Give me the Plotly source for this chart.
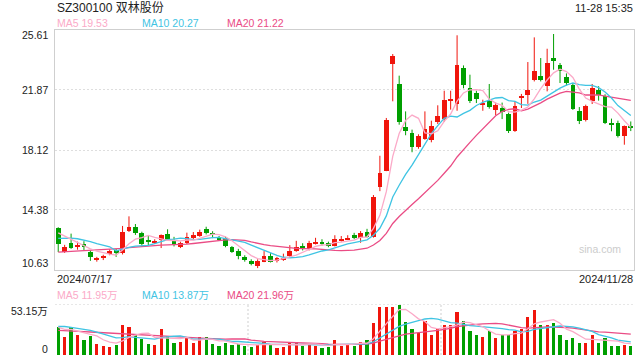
import plotly.graph_objects as go
import pandas as pd

# ---------------- data ----------------
title_text = "SZ300100 双林股份"
time_text = "11-28 15:35"
start_label = "2024/07/17"
end_label = "2024/11/28"

opens = [13.23, 11.77, 12.33, 12.10, 12.27, 11.77, 11.28, 11.40, 11.63, 11.86,
         11.70, 13.06, 13.29, 12.92, 12.47, 12.38, 12.50, 12.85, 12.50, 12.08,
         12.33, 12.65, 12.75, 13.17, 12.90, 12.60, 12.65, 12.06, 11.83, 11.46,
         11.21, 10.88, 11.15, 11.50, 11.18, 11.25, 11.52, 11.83, 12.13, 11.94,
         12.30, 12.40, 12.30, 12.15, 12.48, 12.55, 12.82, 12.65, 13.02, 12.71,
         15.81, 16.83, 23.51, 22.24, 19.55, 19.16, 18.29, 18.82, 18.72, 19.87,
         20.06, 21.20, 20.99, 23.24, 21.99, 21.68, 20.95, 21.16, 20.62, 20.76,
         20.37, 19.32, 21.38, 21.57, 22.51, 22.76, 22.10, 23.86, 23.41, 22.66,
         22.16, 20.57, 20.01, 21.20, 21.89, 21.47, 19.78, 19.80, 18.98, 19.60]
highs = [13.30, 12.20, 12.90, 12.40, 12.43, 11.85, 11.45, 11.58, 11.92, 11.95,
         13.38, 13.98, 13.50, 13.02, 12.75, 12.55, 12.85, 13.17, 12.70, 12.40,
         12.96, 13.00, 13.15, 13.33, 13.05, 12.75, 12.72, 12.12, 11.95, 11.55,
         11.30, 11.30, 11.81, 11.68, 11.45, 11.65, 12.18, 12.45, 12.30, 12.45,
         12.64, 12.55, 12.40, 12.80, 12.75, 12.80, 12.95, 13.06, 13.20, 15.31,
         17.76, 20.12, 24.11, 22.76, 20.53, 19.39, 19.10, 20.53, 19.95, 20.91,
         21.82, 21.82, 25.28, 23.40, 22.82, 21.82, 21.26, 22.24, 21.08, 21.08,
         20.45, 21.18, 21.62, 23.61, 25.15, 23.86, 24.44, 25.36, 23.55, 22.90,
         22.30, 20.80, 20.95, 22.24, 22.10, 21.60, 20.08, 19.95, 19.65, 19.90]
lows = [11.75, 11.70, 11.95, 11.90, 11.88, 11.20, 11.15, 11.25, 11.55, 11.45,
        11.60, 13.00, 12.82, 12.15, 12.18, 12.25, 12.00, 12.45, 12.10, 12.00,
        12.25, 12.55, 12.70, 12.85, 12.62, 12.45, 12.05, 11.70, 11.30, 11.15,
        10.92, 10.75, 11.12, 11.10, 11.10, 11.20, 11.45, 11.77, 11.85, 11.85,
        12.22, 12.15, 12.05, 12.10, 12.40, 12.50, 12.55, 12.33, 12.65, 12.65,
        15.55, 16.80, 21.16, 19.70, 19.04, 17.98, 18.20, 18.76, 18.60, 19.74,
        19.87, 20.64, 20.57, 21.97, 21.05, 21.05, 20.57, 20.70, 20.30, 20.05,
        19.18, 19.25, 20.74, 21.00, 22.40, 22.40, 21.78, 23.13, 22.30, 22.15,
        20.62, 19.74, 19.90, 20.99, 21.20, 19.74, 19.29, 18.90, 18.45, 19.30]
closes = [12.23, 12.06, 12.02, 12.15, 12.06, 11.43, 11.35, 11.48, 11.80, 11.72,
          13.02, 13.32, 12.92, 12.25, 12.42, 12.43, 12.82, 12.50, 12.19, 12.29,
          12.71, 12.79, 13.02, 12.96, 12.85, 12.55, 12.13, 11.77, 11.50, 11.25,
          11.00, 11.21, 11.50, 11.15, 11.35, 11.40, 11.81, 12.06, 11.94, 12.33,
          12.35, 12.27, 12.15, 12.58, 12.52, 12.60, 12.65, 12.96, 12.72, 15.21,
          16.68, 20.01, 23.97, 19.87, 19.32, 18.32, 19.01, 19.43, 19.60, 20.22,
          21.26, 21.32, 23.45, 22.16, 21.20, 21.32, 21.02, 20.78, 20.93, 20.51,
          19.32, 20.87, 21.43, 21.89, 23.07, 22.51, 23.55, 23.65, 23.03, 22.32,
          20.70, 19.92, 20.85, 21.99, 21.58, 19.80, 19.77, 18.98, 19.60, 19.50]
# volume in 万
volumes = [30.5, 19.3, 30.5, 21.1, 16.8, 20.3, 12.0, 10.0, 9.0, 11.0,
           32.6, 30.5, 21.8, 17.6, 12.0, 11.0, 27.4, 20.3, 13.0, 14.0,
           18.0, 13.0, 20.0, 19.3, 12.0, 10.0, 13.0, 11.0, 12.0, 10.0,
           9.0, 11.0, 14.0, 12.0, 8.0, 9.0, 13.0, 14.0, 10.0, 12.0,
           10.0, 8.0, 9.0, 16.8, 10.0, 11.0, 10.0, 14.0, 16.8, 33.7,
           50.8, 50.8, 50.8, 53.15, 35.0, 27.4, 23.9, 36.8, 22.1, 27.4,
           31.6, 31.6, 46.3, 35.8, 25.3, 22.1, 19.3, 25.3, 18.2, 21.1,
           22.1, 26.3, 27.4, 41.0, 47.4, 31.6, 31.6, 34.7, 22.1, 16.3,
           18.2, 13.2, 13.2, 21.1, 13.25, 18.2, 10.5, 10.0, 10.8, 10.25]

# moving-average values at the left edge (need history before the first day)
ma5_head = [12.95, 12.75, 12.55, 12.35]
ma10_head = [12.60, 12.62, 12.62, 12.58, 12.50, 12.40, 12.28, 12.17, 12.08]
ma20_head = [11.74, 11.76, 11.79, 11.82, 11.84, 11.85, 11.86, 11.88, 11.91, 11.93,
             11.98, 12.03, 12.07, 12.10, 12.13, 12.15, 12.18, 12.19, 12.20]
vma5_head = [29.0, 27.0, 27.0, 25.0]
vma10_head = [30.0, 30.0, 29.0, 28.0, 27.0, 26.0, 24.0, 22.0, 20.0]
vma20_head = [26.0, 25.8, 25.5, 25.0, 24.6, 24.2, 23.8, 23.3, 22.8, 22.3,
              22.0, 21.7, 21.4, 21.0, 20.6, 20.3, 20.0, 19.7, 19.4]

price_ticks = [10.63, 14.38, 18.12, 21.87, 25.61]
vol_max = 53.15

# ---------------- styling ----------------
RED = "#f0150c"
GREEN = "#009f00"
C_MA5 = "#fbaac8"
C_MA10 = "#3fc4e3"
C_MA20 = "#ea4c85"
FONT = "Liberation Sans, Arial, Noto Sans CJK SC"

W, H = 640, 360
L, R, T, B = 55, 6, 30, 5
PW, PH = W - L - R, H - T - B


def px(xpix):
    return (xpix - L) / PW


def py(ypix):
    return (H - B - ypix) / PH


def ma(values, w, head):
    m = pd.Series(values).rolling(w).mean().tolist()
    for k, v in enumerate(head):
        m[k] = v
    return m


n = len(closes)
x = list(range(n))
colors = [RED if c >= o else GREEN for o, c in zip(opens, closes)]

fig = go.Figure()

# wicks
for col in (RED, GREEN):
    wx, wy = [], []
    for i in range(n):
        if colors[i] == col:
            wx += [i, i, None]
            wy += [lows[i], highs[i], None]
    fig.add_trace(go.Scatter(x=wx, y=wy, mode="lines", line=dict(color=col, width=1),
                             hoverinfo="skip", xaxis="x", yaxis="y"))

# bodies
min_h = 0.07
body_h = [max(abs(c - o), min_h) for o, c in zip(opens, closes)]
body_b = [(o + c) / 2 - h / 2 for o, c, h in zip(opens, closes, body_h)]
fig.add_trace(go.Bar(x=x, y=body_h, base=body_b, width=0.74,
                     marker=dict(color=colors, line=dict(width=0)),
                     xaxis="x", yaxis="y"))

# price MAs
for w, head, col in ((20, ma20_head, C_MA20), (10, ma10_head, C_MA10), (5, ma5_head, C_MA5)):
    fig.add_trace(go.Scatter(x=x, y=ma(closes, w, head), mode="lines",
                             line=dict(color=col, width=1.3), xaxis="x", yaxis="y"))

# volume
fig.add_trace(go.Bar(x=x, y=volumes, width=0.5,
                     marker=dict(color=colors, line=dict(width=0)),
                     xaxis="x2", yaxis="y2"))
for w, head, col in ((20, vma20_head, C_MA20), (10, vma10_head, C_MA10), (5, vma5_head, C_MA5)):
    fig.add_trace(go.Scatter(x=x, y=ma(volumes, w, head), mode="lines",
                             line=dict(color=col, width=1.3), xaxis="x2", yaxis="y2"))

main_bottom = py(270)
vol_top = py(304.5)

fig.update_layout(
    width=W, height=H, margin=dict(l=L, r=R, t=T, b=B),
    paper_bgcolor="white", plot_bgcolor="white",
    showlegend=False, barmode="overlay", bargap=0,
    font=dict(family=FONT, size=11, color="#222"),
    xaxis=dict(domain=[0, 1], range=[-0.5, n - 0.5], anchor="y",
               showgrid=False, zeroline=False, showticklabels=False,
               showline=True, mirror=True, linecolor="#cfcfcf", linewidth=1),
    yaxis=dict(domain=[main_bottom, 1], range=[price_ticks[0], price_ticks[-1]],
               tickvals=price_ticks[1:-1], showticklabels=False, ticks="",
               showgrid=True, gridcolor="#dedede", griddash="2px,2px", gridwidth=1,
               zeroline=False, showline=True, mirror=True, linecolor="#cfcfcf", linewidth=1),
    xaxis2=dict(domain=[0, 1], range=[-0.5, n - 0.5], anchor="y2",
                showgrid=False, zeroline=False, showticklabels=False, showline=False),
    yaxis2=dict(domain=[0, vol_top], range=[0, vol_max], showgrid=False,
                zeroline=False, showticklabels=False, showline=False),
)

shapes = [
    dict(type="line", xref="x2 domain", x0=0, x1=1, yref="y2", y0=vol_max, y1=vol_max,
         line=dict(color="#cfcfcf", width=1, dash="2px,2px"), layer="below"),
]
for f in (1 / 3, 2 / 3):
    shapes.append(dict(type="line", xref="x2 domain", x0=f, x1=f, yref="y2 domain", y0=0, y1=1,
                       line=dict(color="#cfcfcf", width=1, dash="2px,2px"), layer="below"))
fig.update_layout(shapes=shapes)

ann = []


def add_text(text, xp, yp, xanchor="left", size=11, color="#222", xref="paper", yref="paper",
             yshift=0, xshift=0):
    ann.append(dict(text=text, x=xp, y=yp, xref=xref, yref=yref, xanchor=xanchor,
                    yanchor="middle", showarrow=False, yshift=yshift, xshift=xshift,
                    font=dict(family=FONT, size=size, color=color)))


add_text(title_text, px(55), py(7.5), size=12, color="#222")
add_text(time_text, px(635), py(7.5), xanchor="right", size=11, color="#222")

last = n - 1
ma5v = ma(closes, 5, ma5_head)[last]
ma10v = ma(closes, 10, ma10_head)[last]
ma20v = ma(closes, 20, ma20_head)[last]
add_text(f"MA5 {ma5v:.2f}", px(55), py(23.5), size=10.5, color=C_MA5)
add_text(f"MA10 {ma10v:.2f}", px(140), py(23.5), size=10.5, color=C_MA10)
add_text(f"MA20 {ma20v:.2f}", px(225), py(23.5), size=10.5, color=C_MA20)

vma5v = ma(volumes, 5, vma5_head)[last]
vma10v = ma(volumes, 10, vma10_head)[last]
vma20v = ma(volumes, 20, vma20_head)[last]
add_text(f"MA5 {vma5v:.2f}万", px(55), py(295), size=10.5, color=C_MA5)
add_text(f"MA10 {vma10v:.2f}万", px(140), py(295), size=10.5, color=C_MA10)
add_text(f"MA20 {vma20v:.2f}万", px(225), py(295), size=10.5, color=C_MA20)

# price tick labels
for k, t in enumerate(price_ticks):
    shift = 0
    if k == len(price_ticks) - 1:
        shift = -5
    elif k == 0:
        shift = 7
    add_text(f"{t:.2f}", -0.008, t, xanchor="right", size=10.5, color="#222",
             xref="paper", yref="y", yshift=shift)

add_text(f"{vol_max:.2f}万", -0.008, vol_max, xanchor="right", size=10.5, color="#222",
         xref="paper", yref="y2", yshift=-6)
add_text("0", -0.008, 0, xanchor="right", size=10.5, color="#222",
         xref="paper", yref="y2", yshift=6)

add_text(start_label, px(55), py(278.5), size=11, color="#222")
add_text(end_label, px(635), py(278.5), xanchor="right", size=11, color="#222")
add_text("sina.com", px(623), py(249), xanchor="right", size=10.5, color="#cccccc")

fig.update_layout(annotations=ann)
fig.write_html("out.html", config={"displayModeBar": False},
               post_script="document.body.style.margin='0';document.body.style.overflow='hidden';")
